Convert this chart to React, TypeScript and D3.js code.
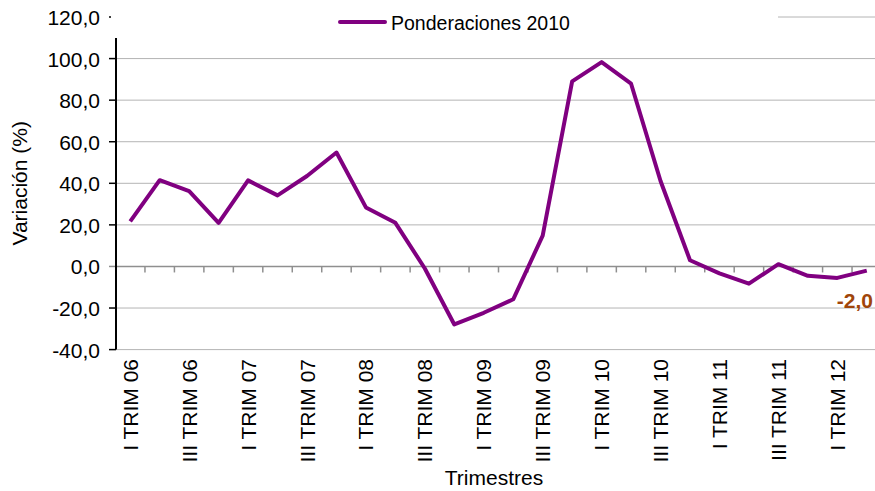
import { scaleBand, scaleLinear, line } from "d3";

const quarters = [
  "I TRIM 06", "II TRIM 06", "III TRIM 06", "IV TRIM 06",
  "I TRIM 07", "II TRIM 07", "III TRIM 07", "IV TRIM 07",
  "I TRIM 08", "II TRIM 08", "III TRIM 08", "IV TRIM 08",
  "I TRIM 09", "II TRIM 09", "III TRIM 09", "IV TRIM 09",
  "I TRIM 10", "II TRIM 10", "III TRIM 10", "IV TRIM 10",
  "I TRIM 11", "II TRIM 11", "III TRIM 11", "IV TRIM 11",
  "I TRIM 12", "II TRIM 12",
];
const ponderaciones2010 = [
  21.7, 41.5, 36.2, 21.0, 41.4, 34.2, 43.5, 54.8, 28.4, 21.0, -1.0, -27.9,
  -22.3, -15.8, 14.8, 89.0, 98.3, 87.9, 41.1, 3.0, -3.3, -8.3, 1.1, -4.5,
  -5.5, -2.0,
];
const yTickValues = [-40, -20, 0, 20, 40, 60, 80, 100, 120];

const W = 875;
const H = 491;
const FONT = "Liberation Sans, Arial, sans-serif";

const fmt = (v: number) => v.toFixed(1).replace(".", ",");

export default function App() {
  const x = scaleBand<string>().domain(quarters).range([115.5, 881.5]);
  const y = scaleLinear().domain([-40, 120]).range([349.6, 17]);
  const cx = (q: string) => (x(q) as number) + x.bandwidth() / 2;

  const path = line<number>()
    .x((_, i) => cx(quarters[i]))
    .y((d) => y(d))(ponderaciones2010) as string;

  const last = ponderaciones2010.length - 1;

  return (
    <svg
      width={W}
      height={H}
      style={{ position: "absolute", left: 0, top: 0, display: "block", background: "#fff" }}
      fontFamily={FONT}
    >
      {/* gridlines */}
      {yTickValues.filter((v) => v !== 0).map((v) => (
        <line key={v} x1={116} x2={W} y1={y(v)} y2={y(v)} stroke="#b4b4b4" strokeWidth={1} />
      ))}
      {/* zero line with category ticks */}
      <line x1={116} x2={W} y1={y(0)} y2={y(0)} stroke="#8f8f8f" strokeWidth={1.5} />
      {quarters.slice(1).map((q) => (
        <line key={q} x1={x(q)} x2={x(q)} y1={y(0)} y2={y(0) + 6} stroke="#8f8f8f" strokeWidth={1.5} />
      ))}

      {/* y ticks (top one is mostly hidden by the legend) */}
      {yTickValues.map((v) => (
        <line
          key={v}
          x1={109}
          x2={116}
          y1={y(v)}
          y2={y(v)}
          stroke={v === 0 ? "#8f8f8f" : "#000"}
          strokeWidth={1.5}
        />
      ))}

      {/* series */}
      <path d={path} fill="none" stroke="#800080" strokeWidth={4} strokeLinejoin="round" />

      {/* legend box covers top */}
      <rect x={111} y={0} width={667} height={38} fill="#fff" />
      <line x1={340} x2={385} y1={22} y2={22} stroke="#800080" strokeWidth={4} strokeLinecap="round" />
      <text x={391} y={29.5} fontSize={19.5} fill="#000">Ponderaciones 2010</text>

      {/* y axis */}
      <line x1={116} x2={116} y1={38} y2={y(-40)} stroke="#000" strokeWidth={2} />
      {yTickValues.map((v) => (
        <text key={v} x={100} y={y(v)} dy="0.38em" textAnchor="end" fontSize={21} fill="#000">
          {fmt(v)}
        </text>
      ))}
      <text
        transform={`translate(27, ${(y(120) + y(-40)) / 2}) rotate(-90)`}
        textAnchor="middle"
        fontSize={21}
        fill="#000"
      >
        Variación (%)
      </text>

      {/* x labels */}
      {quarters.map((q, i) =>
        i % 2 === 0 ? (
          <text
            key={q}
            transform={`translate(${cx(q)}, 359) rotate(-90)`}
            textAnchor="end"
            dy="0.36em"
            fontSize={21}
            fill="#000"
          >
            {q}
          </text>
        ) : null
      )}
      <text x={494} y={485} textAnchor="middle" fontSize={21} fill="#000">
        Trimestres
      </text>

      {/* last value label */}
      <text
        x={873}
        y={308}
        textAnchor="end"
        fontSize={21}
        fontWeight="bold"
        fill="#a0450a"
      >
        {fmt(ponderaciones2010[last])}
      </text>
    </svg>
  );
}
